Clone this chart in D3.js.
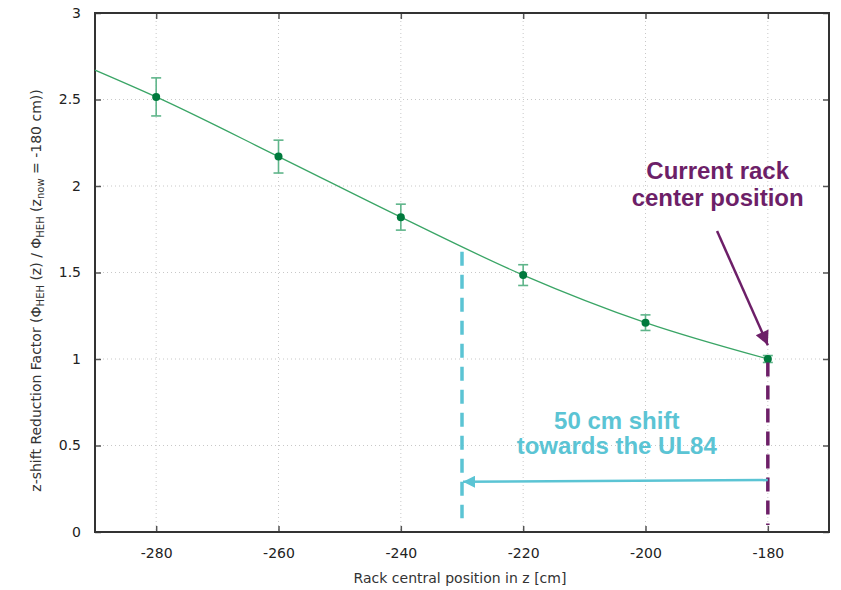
<!DOCTYPE html>
<html>
<head>
<meta charset="utf-8">
<script src="https://cdn.jsdelivr.net/npm/d3@7"></script>
<style>
body { margin: 0; background: #fff; }
text { font-family: "DejaVu Sans", sans-serif; }
text.ann { font-family: "Liberation Sans", Arial, sans-serif; font-weight: bold; font-size: 24px; }
</style>
</head>
<body>
<div id="chart"></div>
<script>
// measured points
var zPos = [-280, -260, -240, -220, -200, -180];
var factor = [2.515, 2.17, 1.82, 1.485, 1.21, 1.0];
var factorErr = [0.11, 0.095, 0.075, 0.06, 0.045, 0.02];

// fit curve (extends to left edge)
var fitZ = [-290, -280, -260, -240, -220, -200, -180];
var fitVal = [2.67, 2.515, 2.17, 1.82, 1.485, 1.21, 1.0];

var xTicks = [-280, -260, -240, -220, -200, -180];
var yTicks = [0, 0.5, 1, 1.5, 2, 2.5, 3];

// annotations
var shiftFrom = -180, shiftTo = -230;

var width = 841, height = 590;
var margin = {top: 13, right: 12, bottom: 58, left: 95};
var w = width - margin.left - margin.right,
    h = height - margin.top - margin.bottom;

var svg = d3.select("#chart").append("svg")
    .attr("width", width)
    .attr("height", height);
var g = svg.append("g")
    .attr("transform", "translate(" + margin.left + "," + margin.top + ")");

var x = d3.scaleLinear().domain([-290, -170]).range([0, w]);
var y = d3.scaleLinear().domain([0, 3]).range([h, 0]);

// grid
g.append("g").selectAll("line").data(xTicks).enter().append("line")
    .attr("x1", d => x(d)).attr("x2", d => x(d))
    .attr("y1", 0).attr("y2", h)
    .style("stroke", "#c8c8c8").style("stroke-dasharray", "1,3");
g.append("g").selectAll("line").data(yTicks.slice(1, -1)).enter().append("line")
    .attr("x1", 0).attr("x2", w)
    .attr("y1", d => y(d)).attr("y2", d => y(d))
    .style("stroke", "#c8c8c8").style("stroke-dasharray", "1,3");

// axes (ticks inward, mirrored)
var fs = "14px";
g.append("g").attr("transform", "translate(0," + h + ")")
    .call(d3.axisBottom(x).tickValues(xTicks).tickSize(-6).tickPadding(16).tickFormat(d => String(d)))
    .call(a => a.select(".domain").remove())
    .selectAll("text").style("font-size", fs).style("fill", "#222");
g.append("g")
    .call(d3.axisTop(x).tickValues(xTicks).tickSize(-6).tickFormat(""))
    .call(a => a.select(".domain").remove());
g.append("g")
    .call(d3.axisLeft(y).tickValues(yTicks).tickSize(-6).tickPadding(14).tickFormat(d => String(d)))
    .call(a => a.select(".domain").remove())
    .selectAll("text").style("font-size", fs).style("fill", "#222");
g.append("g").attr("transform", "translate(" + w + ",0)")
    .call(d3.axisRight(y).tickValues(yTicks).tickSize(-6).tickFormat(""))
    .call(a => a.select(".domain").remove());
g.selectAll(".tick line").style("stroke", "#555").style("stroke-width", 1.5);

g.append("rect")
    .attr("width", w).attr("height", h)
    .style("fill", "none").style("stroke", "#333").style("stroke-width", 2);

// fit line
var fitData = fitZ.map((z, i) => [z, fitVal[i]]);
g.append("path").datum(fitData)
    .attr("d", d3.line().x(d => x(d[0])).y(d => y(d[1])).curve(d3.curveMonotoneX))
    .style("fill", "none").style("stroke", "#3aa566").style("stroke-width", 1.3);

// error bars
var pts = zPos.map((z, i) => ({z: z, v: factor[i], e: factorErr[i]}));
var eb = g.append("g").style("stroke", "#5fb58a").style("stroke-width", 1.6);
eb.selectAll(".v").data(pts).enter().append("line")
    .attr("x1", d => x(d.z)).attr("x2", d => x(d.z))
    .attr("y1", d => y(d.v - d.e)).attr("y2", d => y(d.v + d.e));
eb.selectAll(".t").data(pts).enter().append("line")
    .attr("x1", d => x(d.z) - 5).attr("x2", d => x(d.z) + 5)
    .attr("y1", d => y(d.v + d.e)).attr("y2", d => y(d.v + d.e));
eb.selectAll(".b").data(pts).enter().append("line")
    .attr("x1", d => x(d.z) - 5).attr("x2", d => x(d.z) + 5)
    .attr("y1", d => y(d.v - d.e)).attr("y2", d => y(d.v - d.e));
g.selectAll(".pt").data(pts).enter().append("circle")
    .attr("cx", d => x(d.z)).attr("cy", d => y(d.v)).attr("r", 4)
    .style("fill", "#007a3d");

// annotations
var cyan = "#5bc4d4", purple = "#6d1f68";
var defs = svg.append("defs");
function marker(id, col, len, wid) {
    defs.append("marker").attr("id", id)
        .attr("viewBox", "0 0 10 10").attr("refX", 10).attr("refY", 5)
        .attr("markerUnits", "userSpaceOnUse")
        .attr("markerWidth", len).attr("markerHeight", wid)
        .attr("orient", "auto")
        .append("path").attr("d", "M0,0L10,5L0,10z").style("fill", col);
}
marker("arrC", cyan, 14, 12);
marker("arrP", purple, 16, 14);

g.append("line")
    .attr("x1", x(shiftTo)).attr("x2", x(shiftTo))
    .attr("y1", y(1.62)).attr("y2", y(0.08))
    .style("stroke", cyan).style("stroke-width", 3.5).style("stroke-dasharray", "14,9");
g.append("line")
    .attr("x1", x(shiftFrom)).attr("x2", x(shiftFrom))
    .attr("y1", y(0.98)).attr("y2", y(0.04))
    .style("stroke", purple).style("stroke-width", 3.5).style("stroke-dasharray", "14,9");
g.append("line")
    .attr("x1", x(shiftFrom)).attr("x2", x(shiftTo) + 1)
    .attr("y1", y(0.3)).attr("y2", y(0.29))
    .attr("marker-end", "url(#arrC)")
    .style("stroke", cyan).style("stroke-width", 2.5);
g.append("line")
    .attr("x1", x(-188.3)).attr("x2", x(-180))
    .attr("y1", y(1.74)).attr("y2", y(1.08))
    .attr("marker-end", "url(#arrP)")
    .style("stroke", purple).style("stroke-width", 2.5);

var ann = g.append("g").attr("text-anchor", "middle");
ann.append("text").attr("class", "ann").attr("x", x(-188.2)).attr("y", y(2.043)).text("Current rack").style("fill", purple);
ann.append("text").attr("class", "ann").attr("x", x(-188.2)).attr("y", y(1.887)).text("center position").style("fill", purple);
ann.append("text").attr("class", "ann").attr("x", x(-204.7)).attr("y", y(0.595)).text("50 cm shift").style("fill", cyan);
ann.append("text").attr("class", "ann").attr("x", x(-204.7)).attr("y", y(0.45)).text("towards the UL84").style("fill", cyan);

// axis titles
svg.append("text")
    .attr("x", margin.left + w / 2 - 2).attr("y", 583)
    .attr("text-anchor", "middle").style("font-size", "14px").style("fill", "#333")
    .text("Rack central position in z [cm]");

var yt = svg.append("text")
    .attr("transform", "translate(41," + (margin.top + h / 2 + 18) + ") rotate(-90)")
    .attr("text-anchor", "middle").style("font-size", "14px").style("fill", "#333");
yt.append("tspan").text("z-shift Reduction Factor (\u03A6");
yt.append("tspan").attr("baseline-shift", "-30%").style("font-size", "10px").text("HEH");
yt.append("tspan").text(" (z) /  \u03A6");
yt.append("tspan").attr("baseline-shift", "-30%").style("font-size", "10px").text("HEH");
yt.append("tspan").text(" (z");
yt.append("tspan").attr("baseline-shift", "-30%").style("font-size", "10px").text("now");
yt.append("tspan").text(" = -180 cm))");
</script>
</body>
</html>
